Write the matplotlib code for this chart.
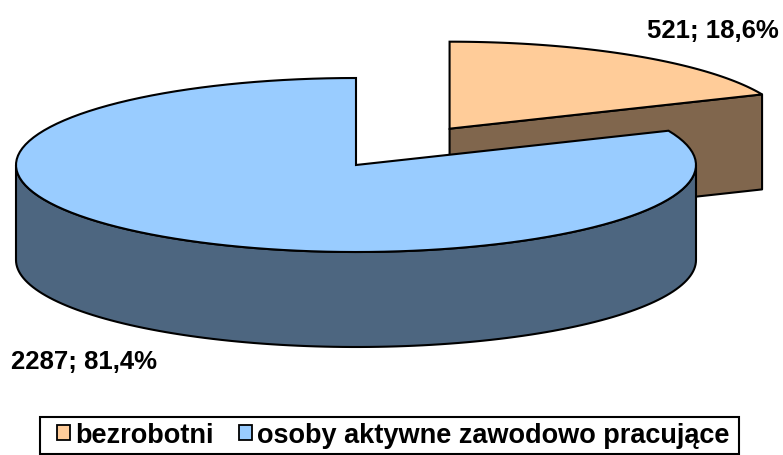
import numpy as np
import matplotlib
matplotlib.use("Agg")
import matplotlib.pyplot as plt
from matplotlib.patches import Polygon, Patch, Rectangle

plt.rcParams['font.family'] = ['Liberation Sans', 'DejaVu Sans']

# dane
kategorie = ["bezrobotni", "osoby aktywne zawodowo pracujące"]
wartosci = [521, 2287]
kolory_gora = ["#FFCC99", "#99CCFF"]
kolory_bok = ["#80664D", "#4D6680"]
wysuniecie = [0.5, 0.0]

# geometria "3D" (w pikselach)
CX, CY = 356, 166
A, B = 340, 87
GLEB = 95
LW = 1.5

fig = plt.figure(figsize=(7.83, 4.56), dpi=100)
ax = fig.add_axes([0, 0, 1, 1])
ax.set_xlim(0, 783)
ax.set_ylim(456, 0)
ax.axis("off")


def punkt(t, cx, cy, dy=0):
    r = np.radians(t)
    return cx + A * np.cos(r), cy - B * np.sin(r) + dy


def luk(t1, t2, cx, cy, dy=0, n=120):
    ts = np.linspace(t1, t2, n)
    return [punkt(t, cx, cy, dy) for t in ts]


suma = sum(wartosci)
udzialy = [v / suma for v in wartosci]
starty = np.cumsum([0] + udzialy[:-1])

kawalki = []
for i, u in enumerate(udzialy):
    t1 = 90 - starty[i] * 360
    t2 = 90 - (starty[i] + u) * 360
    mid = np.radians((t1 + t2) / 2)
    cx = CX + wysuniecie[i] * A * np.cos(mid)
    cy = CY - wysuniecie[i] * B * np.sin(mid)
    kawalki.append((i, t1, t2, cx, cy, np.sin(mid)))

# od tylu do przodu
for i, t1, t2, cx, cy, s in sorted(kawalki, key=lambda k: -k[5]):
    lo, hi = t2, t1
    # sciany boczne (promieniowe)
    for t, znak in ((t2, 1), (t1, -1)):
        if znak * np.cos(np.radians(t)) > 1e-6:
            p = punkt(t, cx, cy)
            quad = [(cx, cy), p, (p[0], p[1] + GLEB), (cx, cy + GLEB)]
            ax.add_patch(Polygon(quad, closed=True, fc=kolory_bok[i],
                                 ec="black", lw=LW, joinstyle="round"))
    # sciana zewnetrzna - tylko przednia czesc
    for f1, f2 in ((-540, -360), (-180, 0), (180, 360)):
        a1, a2 = max(lo, f1), min(hi, f2)
        if a2 > a1:
            gora = luk(a1, a2, cx, cy)
            dol = luk(a2, a1, cx, cy, GLEB)
            ax.add_patch(Polygon(gora + dol, closed=True, fc=kolory_bok[i],
                                 ec="black", lw=LW, joinstyle="round"))
    # wierzch
    pts = [(cx, cy)] + luk(t1, t2, cx, cy)
    ax.add_patch(Polygon(pts, closed=True, fc=kolory_gora[i],
                         ec="black", lw=LW, joinstyle="miter"))


def etykieta(i):
    return f"{wartosci[i]}; {udzialy[i] * 100:.1f}%".replace(".", ",")


ax.text(779, 19, etykieta(0), ha="right", va="top",
        fontsize=18.5, fontweight="bold")
ax.text(11, 350, etykieta(1), ha="left", va="top",
        fontsize=18.5, fontweight="bold")

# ramka legendy
ax.add_patch(Rectangle((40, 418), 699, 37, fc="white", ec="black", lw=1.5))

uchwyty = [Patch(fc=kolory_gora[i], ec="black", lw=1.3) for i in range(2)]
leg = fig.legend(uchwyty, kategorie, loc="center", ncol=2,
                 bbox_to_anchor=(0.502, 0.044),
                 prop={"size": 19.5, "weight": "bold"},
                 frameon=False,
                 handlelength=0.48, handleheight=0.48,
                 handletextpad=0.18, columnspacing=0.95,
                 borderpad=0.2, borderaxespad=0)

fig.savefig("out.png", dpi=100)
